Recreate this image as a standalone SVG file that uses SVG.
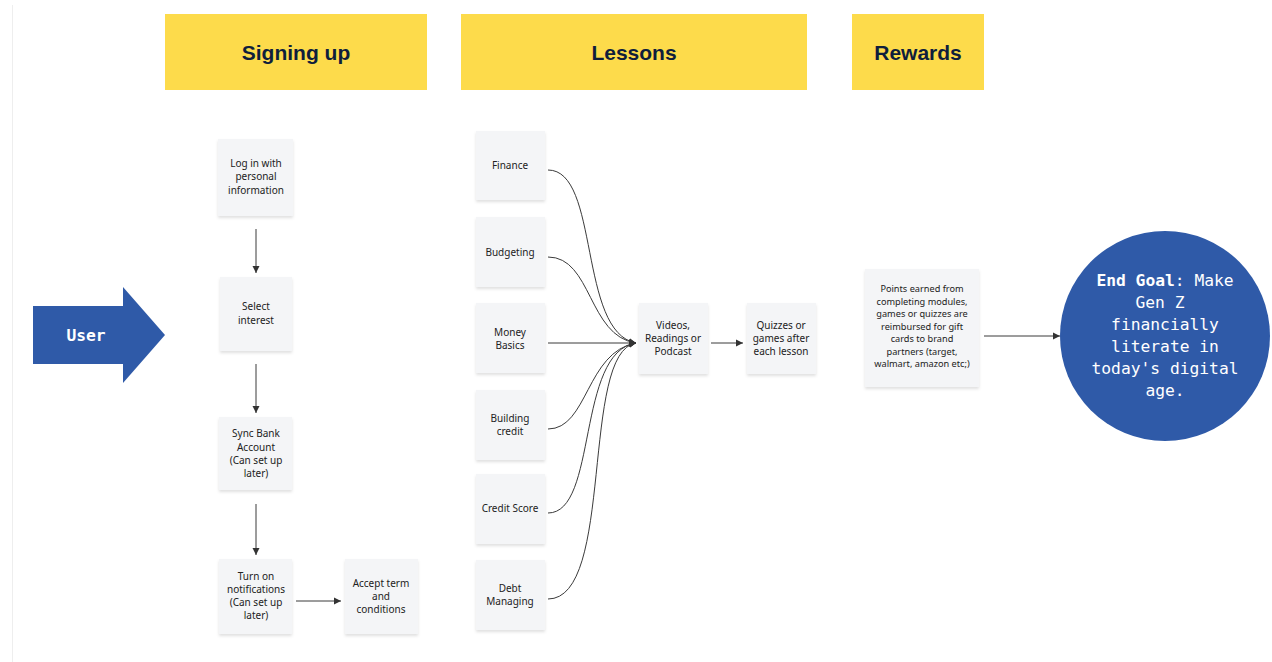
<svg xmlns="http://www.w3.org/2000/svg" width="1272" height="662" viewBox="0 0 1272 662">
<style>
.hdr{fill:#FDDB4B}
.hdrt{font-family:"Liberation Sans",Arial,sans-serif;font-weight:bold;font-size:21px;fill:#0f1e3c;text-anchor:middle}
.note{fill:#f4f5f7;filter:url(#sh)}
.nt{font-family:"Noto Sans","Open Sans",sans-serif;font-size:10px;fill:#222;text-anchor:middle}
.nts{font-family:"Noto Sans","Open Sans",sans-serif;font-size:9.2px;fill:#222;text-anchor:middle}
.blue{fill:#2f5aa8}
.mono{font-family:"DejaVu Sans Mono","Liberation Mono",monospace;font-size:16.3px;fill:#fff;text-anchor:middle}
.ln{fill:none;stroke:#3a3a3a;stroke-width:1;marker-end:url(#ah)}
</style>
<defs>
<marker id="ah" markerWidth="8" markerHeight="8" refX="7" refY="4" orient="auto" markerUnits="userSpaceOnUse">
<path d="M0,0.5 L7,4 L0,7.5 Z" fill="#333"/>
</marker>
<filter id="sh" x="-20%" y="-20%" width="140%" height="140%">
<feDropShadow dx="0" dy="2" stdDeviation="1.5" flood-color="#000" flood-opacity="0.12"/>
</filter>
</defs>
<rect width="1272" height="662" fill="#fff"/>
<line x1="12.5" y1="5" x2="12.5" y2="662" stroke="#eeeeee" stroke-width="1"/>

<g id="hdr-signing"><rect class="hdr" x="165" y="14" width="262" height="76"/><text class="hdrt" x="296" y="60">Signing up</text></g>
<g id="hdr-lessons"><rect class="hdr" x="461" y="14" width="346" height="76"/><text class="hdrt" x="634" y="60">Lessons</text></g>
<g id="hdr-rewards"><rect class="hdr" x="852" y="14" width="132" height="76"/><text class="hdrt" x="918" y="60">Rewards</text></g>

<g id="user"><path class="blue" d="M33,306 L123,306 L123,287 L165,335 L123,383 L123,364 L33,364 Z"/><text class="mono" x="86" y="341" font-weight="bold">User</text></g>

<g id="login"><rect class="note" x="218" y="139" width="75" height="77"/><text class="nt" x="256" y="167">Log in with</text><text class="nt" x="256" y="180">personal</text><text class="nt" x="256" y="194">information</text></g>
<g id="select"><rect class="note" x="220" y="277" width="72" height="74"/><text class="nt" x="256" y="310">Select</text><text class="nt" x="256" y="324">interest</text></g>
<g id="sync"><rect class="note" x="219" y="417" width="73" height="73"/><text class="nt" x="256" y="437">Sync Bank</text><text class="nt" x="256" y="451">Account</text><text class="nt" x="256" y="464">(Can set up</text><text class="nt" x="256" y="477">later)</text></g>
<g id="notif"><rect class="note" x="219" y="559" width="73" height="75"/><text class="nt" x="256" y="580">Turn on</text><text class="nt" x="256" y="593">notifications</text><text class="nt" x="256" y="606">(Can set up</text><text class="nt" x="256" y="619">later)</text></g>
<g id="accept"><rect class="note" x="345" y="559" width="73" height="75"/><text class="nt" x="381" y="587">Accept term</text><text class="nt" x="381" y="600">and</text><text class="nt" x="381" y="613">conditions</text></g>

<g id="finance"><rect class="note" x="476" y="131" width="69" height="69"/><text class="nt" x="510" y="169">Finance</text></g>
<g id="budgeting"><rect class="note" x="476" y="217" width="69" height="70"/><text class="nt" x="510" y="256">Budgeting</text></g>
<g id="money"><rect class="note" x="476" y="303" width="69" height="70"/><text class="nt" x="510" y="336">Money</text><text class="nt" x="510" y="349">Basics</text></g>
<g id="building"><rect class="note" x="476" y="390" width="69" height="70"/><text class="nt" x="510" y="422">Building</text><text class="nt" x="510" y="435">credit</text></g>
<g id="creditscore"><rect class="note" x="476" y="474" width="69" height="70"/><text class="nt" x="510" y="512">Credit Score</text></g>
<g id="debt"><rect class="note" x="476" y="560" width="69" height="70"/><text class="nt" x="510" y="592">Debt</text><text class="nt" x="510" y="605">Managing</text></g>

<g id="videos"><rect class="note" x="639" y="303" width="69" height="71"/><text class="nt" x="673" y="329">Videos,</text><text class="nt" x="673" y="342">Readings or</text><text class="nt" x="673" y="355">Podcast</text></g>
<g id="quizzes"><rect class="note" x="747" y="303" width="69" height="71"/><text class="nt" x="781" y="329">Quizzes or</text><text class="nt" x="781" y="342">games after</text><text class="nt" x="781" y="355">each lesson</text></g>

<g id="points"><rect class="note" x="865" y="269" width="114" height="118"/>
<text class="nts" x="922" y="292">Points earned from</text>
<text class="nts" x="922" y="305">completing modules,</text>
<text class="nts" x="922" y="317">games or quizzes are</text>
<text class="nts" x="922" y="330">reimbursed for gift</text>
<text class="nts" x="922" y="342">cards to brand</text>
<text class="nts" x="922" y="355">partners (target,</text>
<text class="nts" x="922" y="367">walmart, amazon etc;)</text></g>

<g id="goal"><circle class="blue" cx="1165" cy="336" r="105"/>
<text class="mono" x="1165" y="286"><tspan font-weight="bold">End Goal</tspan>: Make</text>
<text class="mono" x="1160" y="308">Gen Z</text>
<text class="mono" x="1165" y="330">financially</text>
<text class="mono" x="1165" y="352">literate in</text>
<text class="mono" x="1165" y="374">today's digital</text>
<text class="mono" x="1165" y="396">age.</text></g>

<g id="connectors">
<path class="ln" d="M256,229 L256,273"/>
<path class="ln" d="M256,364 L256,413"/>
<path class="ln" d="M256,504 L256,555"/>
<path class="ln" d="M296,601 L341,601"/>
<path class="ln" d="M548,170 C600,170 578,332 636,343"/>
<path class="ln" d="M548,257 C592,257 588,336 636,343"/>
<path class="ln" d="M548,343 L636,343"/>
<path class="ln" d="M548,429 C588,429 586,352 636,343"/>
<path class="ln" d="M548,513 C598,513 576,352 636,343"/>
<path class="ln" d="M548,599 C615,599 580,352 636,343"/>
<path class="ln" d="M711,343 L743,343"/>
<path class="ln" d="M984,336 L1060,336"/>
</g>
</svg>
